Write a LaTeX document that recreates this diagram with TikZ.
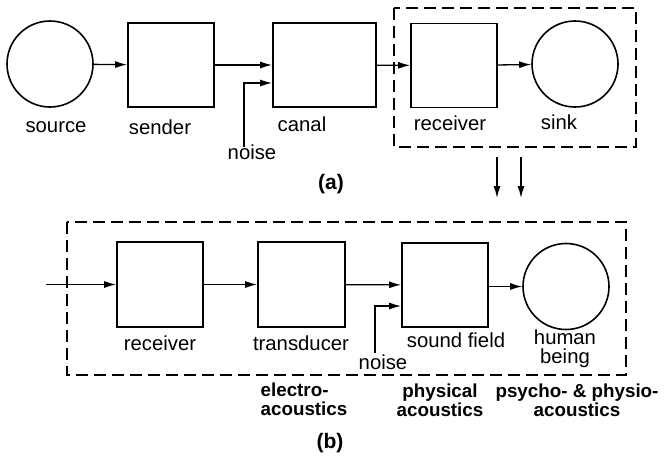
\documentclass[tikz,border=0pt]{standalone}
\usepackage{fontspec}
\setmainfont{Liberation Sans}
\usetikzlibrary{arrows.meta}
\begin{document}
\begin{tikzpicture}[x=1pt,y=-1pt,
  blk/.style={draw, line width=1.8pt, minimum width=86pt, minimum height=84pt, inner sep=0pt},
  circ/.style={draw, circle, line width=1.6pt, minimum size=86pt, inner sep=0pt},
  lbl/.style={inner sep=0pt, font=\fontsize{20.3}{19}\selectfont, align=center},
  blbl/.style={inner sep=0pt, font=\bfseries\fontsize{18.8}{19}\selectfont},
  captxt/.style={inner sep=0pt, font=\bfseries\fontsize{21}{24}\selectfont},
  arr/.style={line width=1.3pt, -{Latex[length=12pt,width=7pt]}},
  dbox/.style={draw, line width=1.7pt, dash pattern=on 12pt off 6pt},
]
\useasboundingbox (0,0) rectangle (668,459);

% ---- (a) ----
\node[circ] (source) at (50,64) {};
\node[blk] (sender) at (171,65) {};
\node[blk, minimum width=103pt] (canal) at (324.5,65) {};
\node[blk] (recA) at (454,65.5) {};
\node[circ] (sink) at (575,64) {};
\draw[dbox] (394,8) rectangle (636,147);

\node[lbl] (lsource) at (56,127) {source};
\node[lbl] (lsender) at (160,127) {sender};
\node[lbl] (lcanal) at (302,124) {canal};
\node[lbl] (lnoiseA) at (252,152) {noise};
\node[lbl] (lrecA) at (450,123) {receiver};
\node[lbl] (lsink) at (559,122) {sink};

\draw[arr] (source) -- (sender);
\draw[arr] (sender) -- (canal);
\coordinate (nAs) at (244,147);
\coordinate (nA) at (244,83);
\draw[arr] (nAs) -- (nA) -- (canal.west |- nA);
\draw[arr] (canal) -- (recA);
\draw[arr] (recA) -- (sink);

\coordinate (d1s) at (497,157);
\coordinate (d1e) at (497,198);
\coordinate (d2s) at (521,157);
\coordinate (d2e) at (521,198);
\draw[arr] (d1s) -- (d1e);
\draw[arr] (d2s) -- (d2e);

\node[captxt] (capa) at (331,184) {(a)};

% ---- (b) ----
\draw[dbox] (67,222) rectangle (626,375);
\coordinate (inB) at (46,284.5);
\node[blk, minimum height=85pt] (recB) at (160,284.5) {};
\node[blk, minimum width=87pt, minimum height=85pt] (trans) at (301.5,284.5) {};
\node[blk] (sound) at (445,285) {};
\node[circ] (human) at (566,286.5) {};

\draw[arr] (inB) -- (recB);
\draw[arr] (recB) -- (trans);
\draw[arr] (trans) -- (sound);
\coordinate (nBs) at (375,353);
\coordinate (nB) at (375,306);
\draw[arr] (nBs) -- (nB) -- (sound.west |- nB);
\draw[arr] (sound.east |- human) -- (human);

\node[lbl] (lrecB) at (160,343) {receiver};
\node[lbl] (ltrans) at (301,343) {transducer};
\node[lbl] (lsound) at (456,340) {sound field};
\node[lbl] (lhuman) at (565,349) {human\\being};
\node[lbl] (lnoiseB) at (383,362) {noise};

\node[blbl, align=left] (electro) at (304,399) {electro-\\acoustics};
\node[blbl, align=center] (phys) at (440,400) {physical\\acoustics};
\node[blbl, align=center] (psycho) at (577,400) {psycho- \& physio-\\acoustics};

\node[captxt] (capb) at (330,443) {(b)};
\end{tikzpicture}
\end{document}
